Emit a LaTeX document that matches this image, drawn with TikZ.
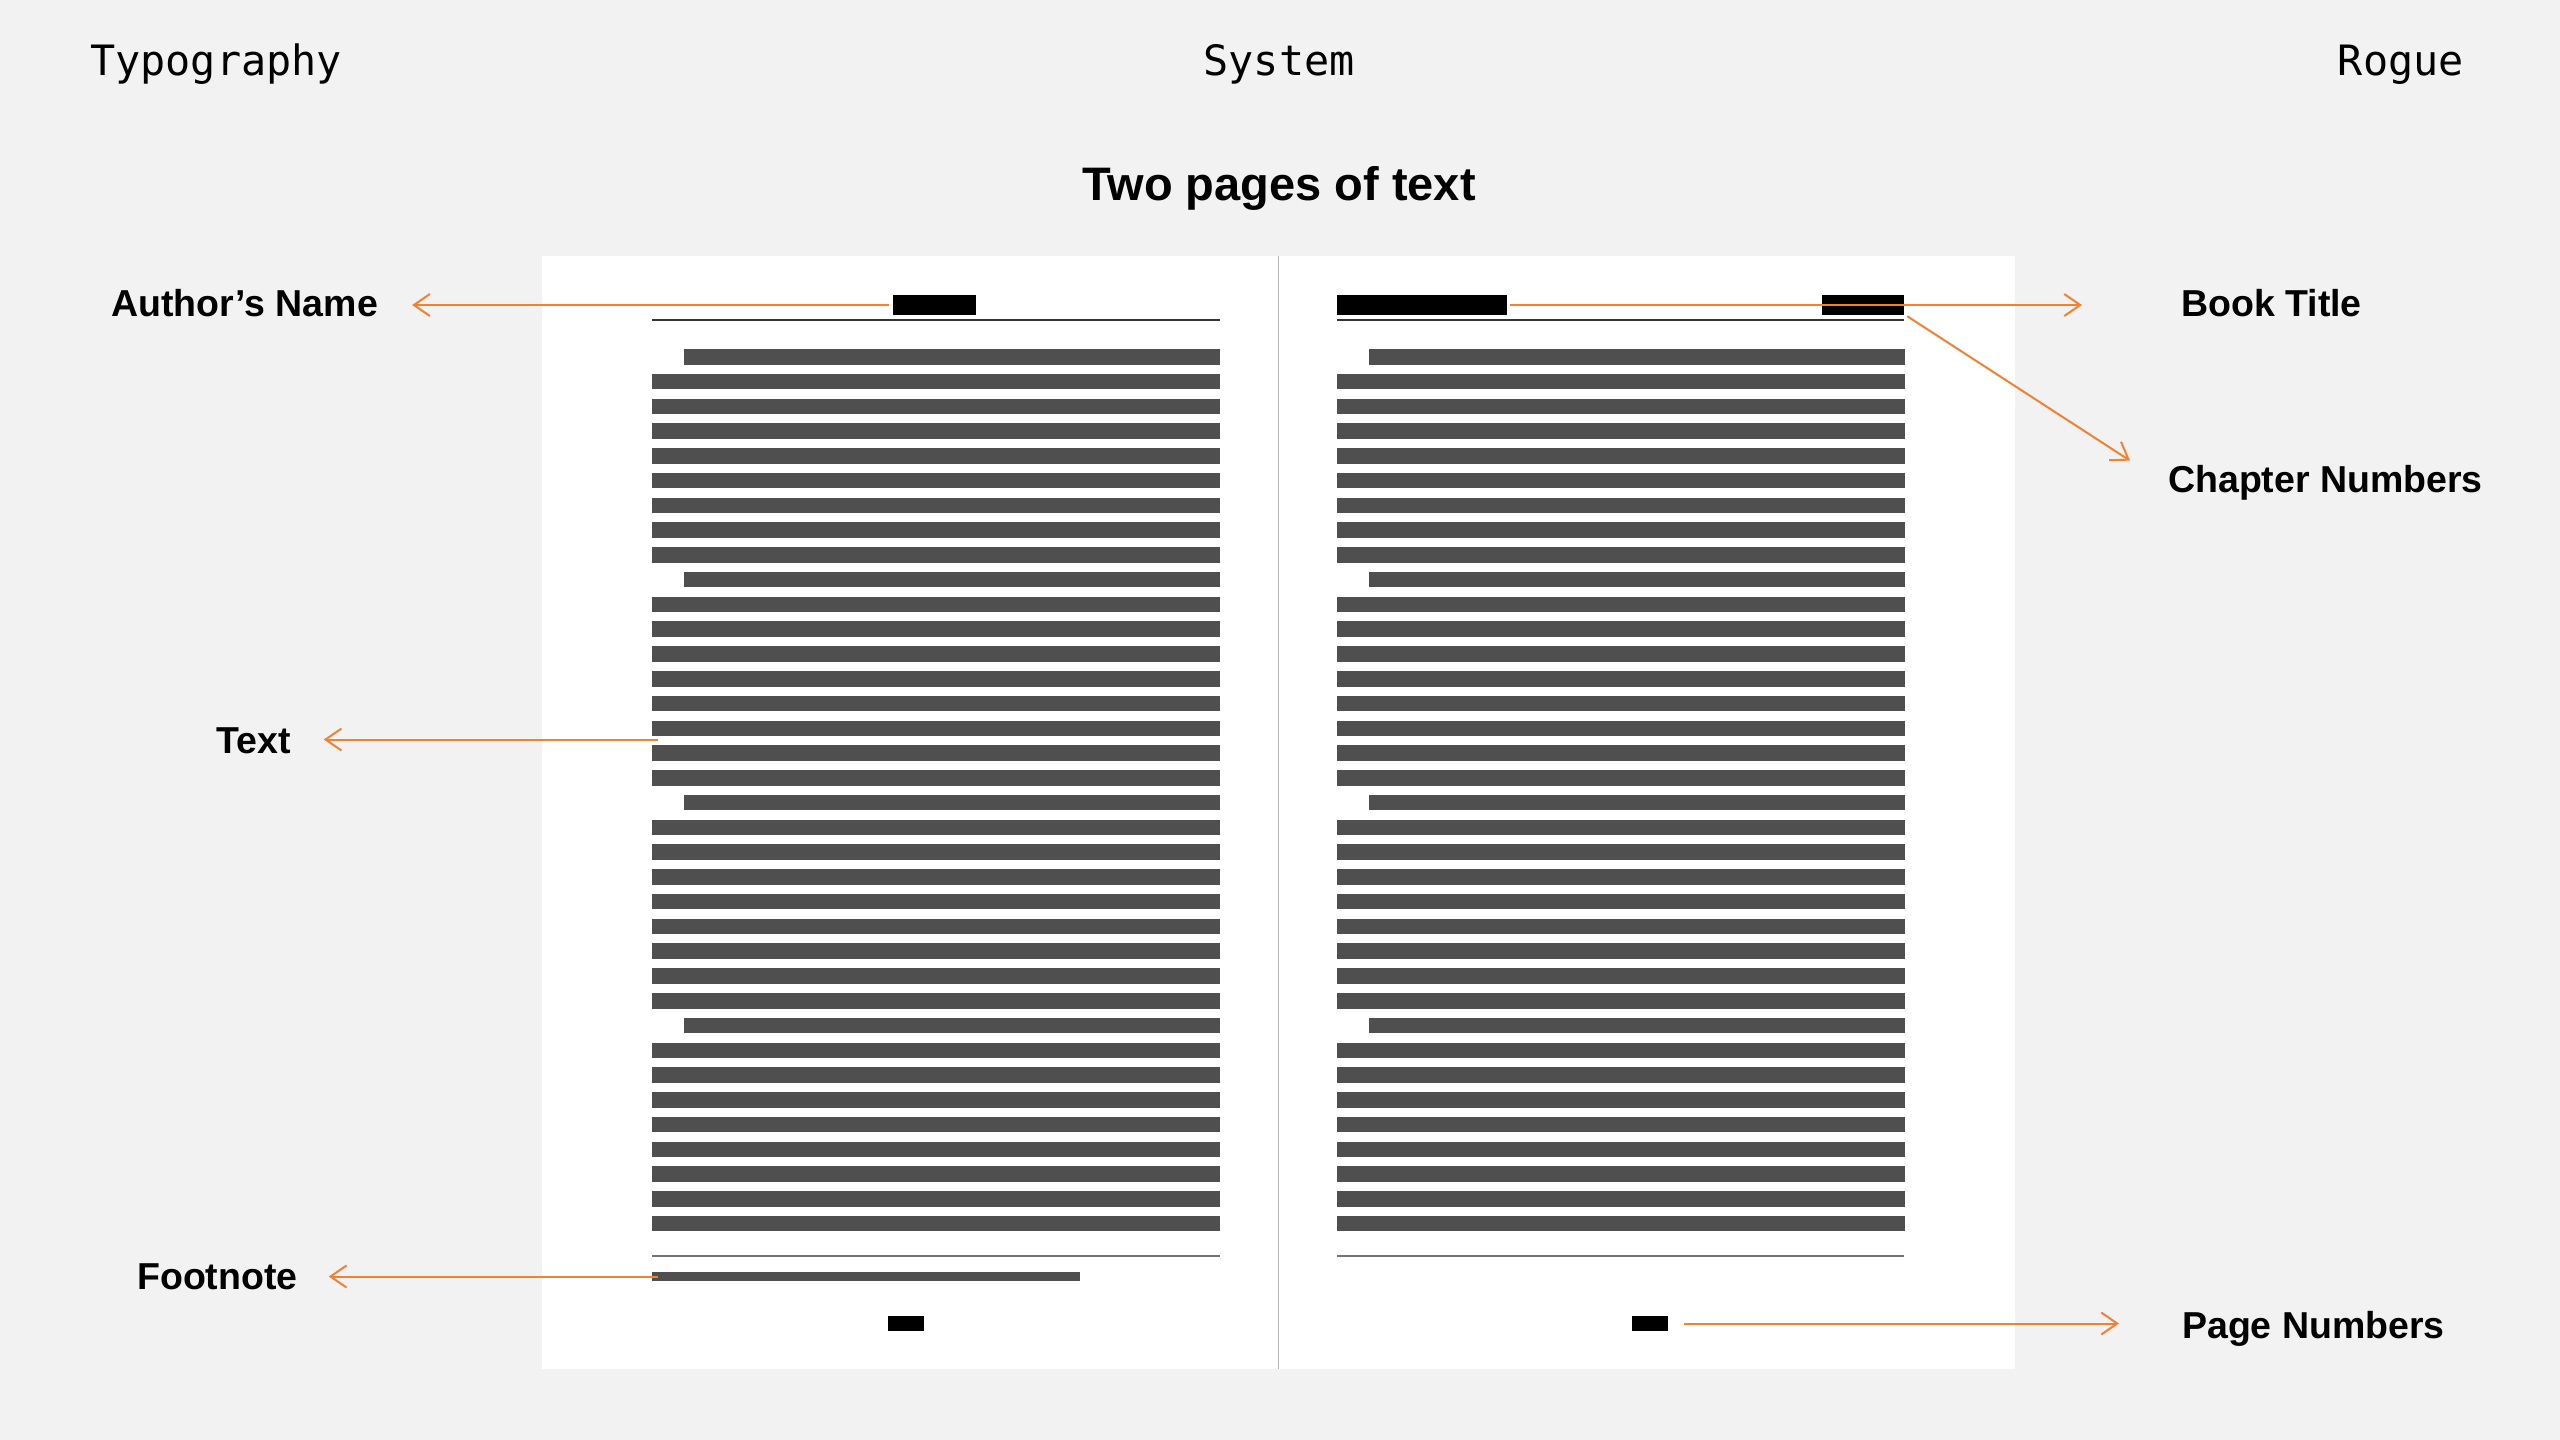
\documentclass[tikz,border=0pt]{standalone}
\usepackage{fontspec}
\setmainfont{Liberation Sans}
\newfontfamily\monof{DejaVu Sans Mono}
\usetikzlibrary{arrows.meta}
\definecolor{bgc}{HTML}{F2F2F2}
\definecolor{barc}{HTML}{4F4F4F}
\definecolor{orng}{HTML}{EF8235}
\definecolor{divc}{HTML}{B4B4B4}
\begin{document}
\begin{tikzpicture}[x=1pt,y=-1pt,
  lbl/.style={font=\fontsize{37.5}{40}\selectfont\bfseries, inner sep=0pt, anchor=base west},
  hdr/.style={font=\monof\fontsize{41.8}{44}\selectfont, inner sep=0pt},
  blk/.style={fill=black, draw=none, inner sep=0pt},
  fbar/.style={fill=barc, draw=none, inner sep=0pt},
  arr/.style={draw=orng, line width=2pt, -{Straight Barb[length=16pt,width=22pt]}},
  toprule/.style={draw=black!80, line width=1.6pt},
  botrule/.style={draw=black!55, line width=1.4pt},
]
\useasboundingbox (0,0) rectangle (2560,1440);
\fill[bgc] (0,0) rectangle (2560,1440);

% headers
\node[hdr, anchor=base west] (hTypo) at (90,75) {Typography};
\node[hdr, anchor=base] (hSys) at (1279,75) {System};
\node[hdr, anchor=base east] (hRogue) at (2464,75) {Rogue};
\node[font=\fontsize{47}{50}\selectfont\bfseries, inner sep=0pt, anchor=base] (heading) at (1279,200) {Two pages of text};

% spread
\node[fill=white, draw=none, inner sep=0pt, minimum width=1473pt, minimum height=1113pt] (spread) at (1278.5,812.5) {};
\draw[divc, line width=1.5pt] (spread.north) -- (spread.south);

% rules
\draw[toprule] (652,320) -- (1220,320);
\draw[toprule] (1337,320) -- (1904,320);
\draw[botrule] (652,1256) -- (1220,1256);
\draw[botrule] (1337,1256) -- (1904,1256);

% text bars
\foreach \ox in {0,685}{
  \foreach \p in {0,1,2,3}{
    \fill[barc] ({684+\ox},{349+24.77*9*\p}) rectangle ({1220+\ox},{349+24.77*9*\p+15.5});
    \foreach \j in {1,...,8}{
      \fill[barc] ({652+\ox},{349+24.77*(9*\p+\j)}) rectangle ({1220+\ox},{349+24.77*(9*\p+\j)+15.5});
    }
  }
}

% blocks
\node[blk, minimum width=83pt, minimum height=20pt] (author) at (934.5,305) {};
\node[blk, minimum width=170pt, minimum height=20pt] (booktitle) at (1422,305) {};
\node[blk, minimum width=82pt, minimum height=20pt] (chap) at (1863,305) {};
\node[fbar, minimum width=428pt, minimum height=9pt] (foot) at (866,1276.5) {};
\node[blk, minimum width=36pt, minimum height=15pt] (pnL) at (906,1323.5) {};
\node[blk, minimum width=36pt, minimum height=15pt] (pnR) at (1650,1323.5) {};
\coordinate (textpt) at (658,739.5);

% labels
\node[lbl] (authorL) at (111,316) {Author’s Name};
\node[lbl] (textL) at (216,753) {Text};
\node[lbl] (footL) at (137,1289) {Footnote};
\node[lbl] (bookL) at (2181,316) {Book Title};
\node[lbl] (chapL) at (2168,492) {Chapter Numbers};
\node[lbl] (pageL) at (2182,1338) {Page Numbers};

% arrows
\draw[arr] ([xshift=-4pt]author.west) -- ([xshift=34pt]authorL.east |- author.west);
\draw[arr] (textpt) -- ([xshift=33pt]textL.east |- textpt);
\draw[arr] ([xshift=6pt]foot.west) -- ([xshift=31pt]footL.east |- foot.west);
\draw[arr] ([xshift=3pt]booktitle.east) -- ([xshift=-99pt]bookL.west |- booktitle.east);
\draw[arr] ([xshift=3pt,yshift=-1pt]chap.south east) -- ([xshift=-38pt,yshift=4pt]chapL.north west);
\draw[arr] ([xshift=16pt]pnR.east) -- ([xshift=-63pt]pageL.west |- pnR.east);
\end{tikzpicture}
\end{document}
